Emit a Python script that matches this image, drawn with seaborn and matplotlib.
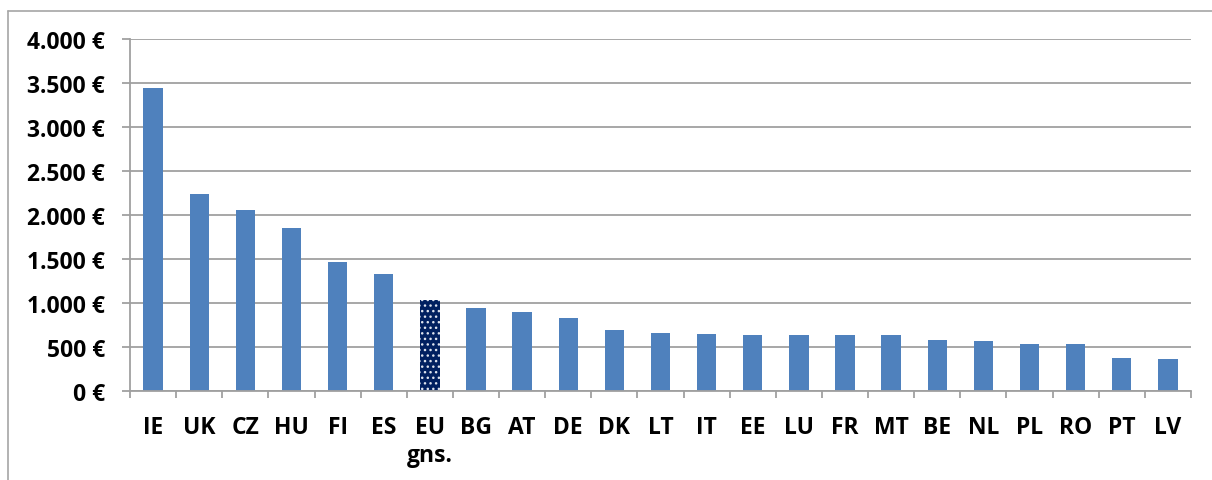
import matplotlib
matplotlib.use("Agg")
import matplotlib.pyplot as plt
import seaborn as sns
from matplotlib.lines import Line2D

categories = ["IE", "UK", "CZ", "HU", "FI", "ES", "EU", "BG", "AT", "DE", "DK", "LT",
              "IT", "EE", "LU", "FR", "MT", "BE", "NL", "PL", "RO", "PT", "LV"]
tick_labels = ["IE", "UK", "CZ", "HU", "FI", "ES", "EU\ngns.", "BG", "AT", "DE", "DK", "LT",
               "IT", "EE", "LU", "FR", "MT", "BE", "NL", "PL", "RO", "PT", "LV"]
values = [3443, 2239, 2057, 1852, 1466, 1330, 1034, 943, 898, 830, 693, 659,
          648, 636, 636, 636, 636, 580, 568, 537, 530, 371, 367]
y_ticks = [0, 500, 1000, 1500, 2000, 2500, 3000, 3500, 4000]
y_tick_labels = ["0 €", "500 €", "1.000 €", "1.500 €", "2.000 €", "2.500 €",
                 "3.000 €", "3.500 €", "4.000 €"]

BLUE = "#4F81BD"
NAVY = "#002060"
GRID = "#A0A0A0"

sns.set_theme(style="white")
plt.rcParams["font.family"] = ["Open Sans", "DejaVu Sans"]
plt.rcParams["hatch.linewidth"] = 1.0

fig = plt.figure(figsize=(12.12, 4.81), dpi=100)
ax = fig.add_axes([130 / 1212, 1 - 392 / 481, 1061 / 1212, 352 / 481])

palette = {c: (NAVY if c == "EU" else BLUE) for c in categories}
sns.barplot(x=categories, y=values, hue=categories, palette=palette, legend=False,
            width=0.42, saturation=1, ax=ax, linewidth=0)

for c, p in zip(categories, ax.patches):
    if c == "EU":
        p.set_hatch("...")
        p.set_edgecolor("#DDE3EE")
        p.set_linewidth(0)

ax.set_ylim(0, 4000)
ax.set_xlim(-0.5, len(categories) - 0.5)
ax.set_yticks(y_ticks)
ax.set_yticklabels(y_tick_labels, fontsize=16.5, fontweight="bold", color="black")
ax.set_xticks(range(len(categories)))
ax.set_xticklabels(tick_labels, fontsize=16.5, fontweight="bold", color="black",
                   linespacing=1.25)
ax.set_xticks([i - 0.5 for i in range(len(categories) + 1)], minor=True)

ax.yaxis.grid(True, color=GRID, linewidth=1.3)
ax.set_axisbelow(True)
for s in ["top", "right"]:
    ax.spines[s].set_visible(False)
for s in ["left", "bottom"]:
    ax.spines[s].set_visible(True)
    ax.spines[s].set_color(GRID)
    ax.spines[s].set_linewidth(1.3)

ax.tick_params(axis="y", which="major", length=6, width=1.3, color=GRID, pad=12, left=True)
ax.tick_params(axis="x", which="major", length=0, pad=17)
ax.tick_params(axis="x", which="minor", length=5, width=1.3, color=GRID, bottom=True)

# outer frame (top and left edges)
fig.add_artist(Line2D([8 / 1212, 1.0], [1 - 12 / 481, 1 - 12 / 481], transform=fig.transFigure,
                      color="#A6A6A6", linewidth=1.2))
fig.add_artist(Line2D([8 / 1212, 8 / 1212], [0, 1 - 12 / 481], transform=fig.transFigure,
                      color="#A6A6A6", linewidth=1.2))

fig.savefig("out.png", dpi=100, facecolor="white")
